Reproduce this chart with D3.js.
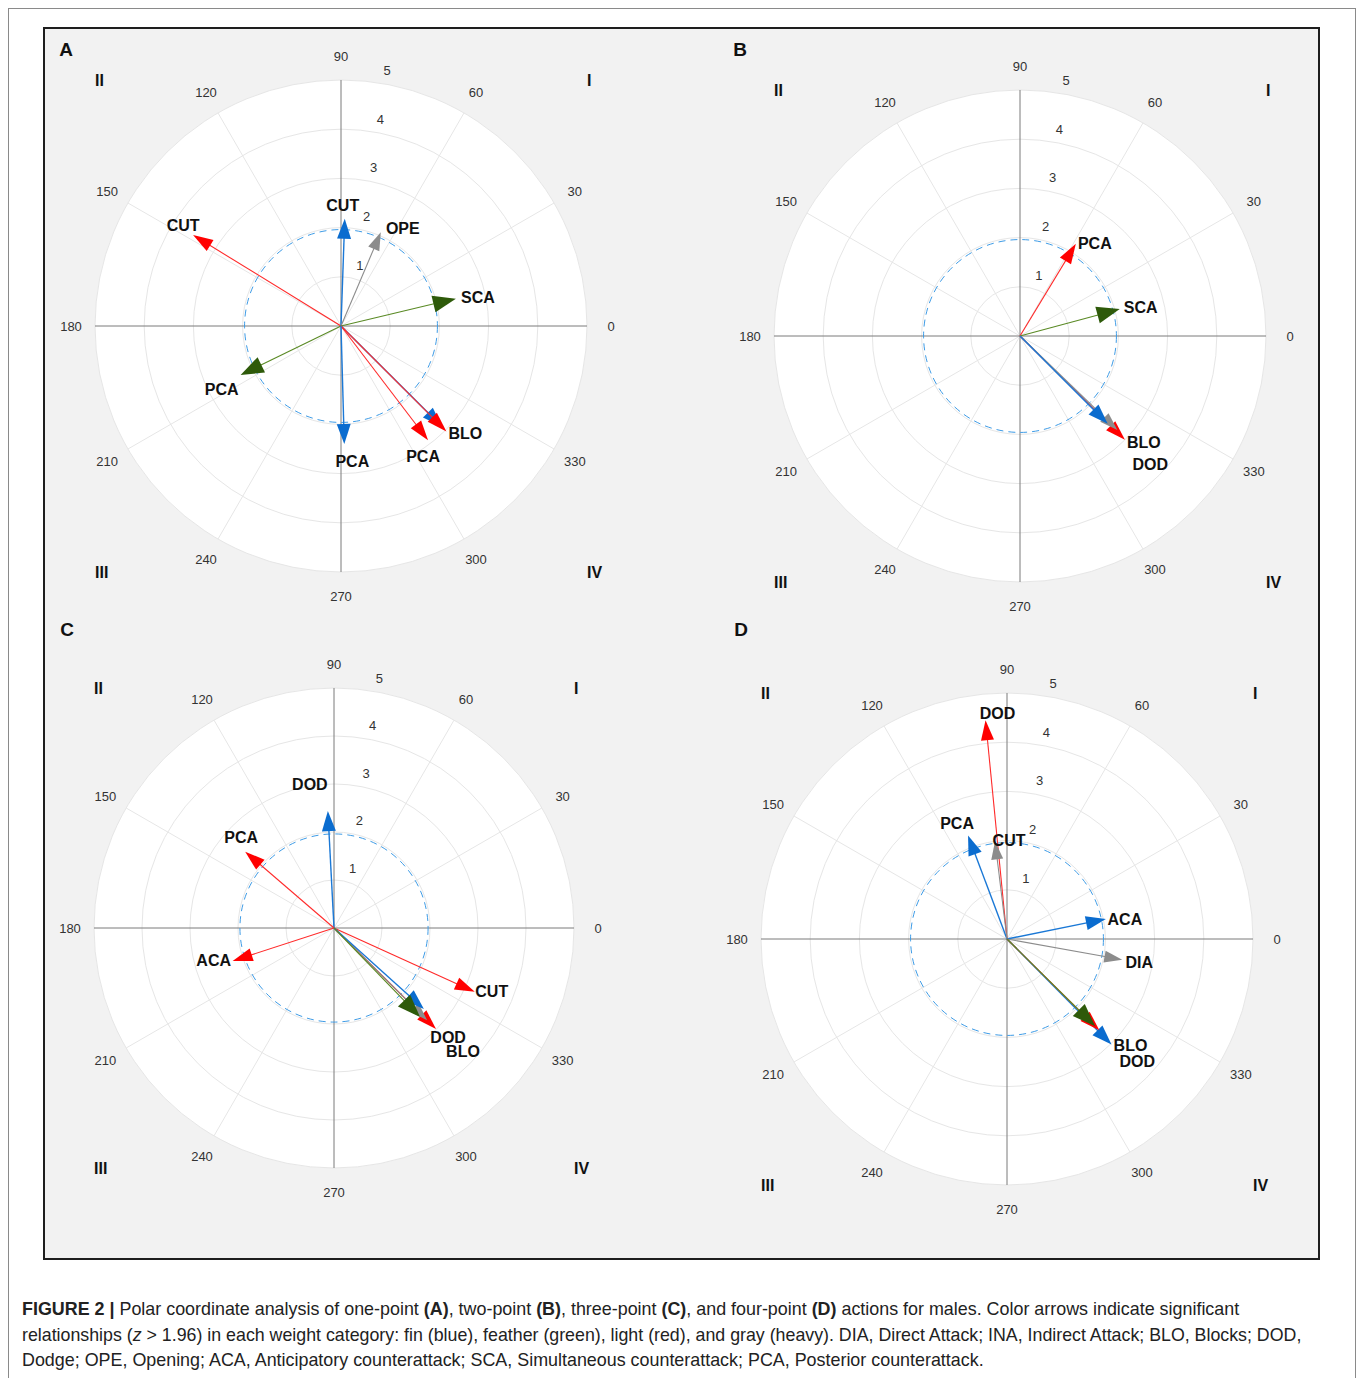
<!DOCTYPE html>
<html>
<head>
<meta charset="utf-8">
<script src="https://d3js.org/d3.v7.min.js"></script>
<style>
  body { margin: 0; background: #fff; }
  svg text { font-family: "Liberation Sans", Arial, sans-serif; }
</style>
</head>
<body>
<svg width="1358" height="1378"></svg>
<script>
// vectors per panel: weight category, action, length (z units), angle (deg)
// drawn in array order
var catA = ["light", "fin", "gray", "feather", "fin", "light", "feather", "light", "fin"];
var actA = ["CUT", "CUT", "OPE", "SCA", "BLO", "BLO", "PCA", "PCA", "PCA"];
var lenA = [3.53, 2.18, 2.07, 2.40, 2.90, 3.03, 2.27, 2.92, 2.40];
var angA = [148.4, 88, 67, 13.4, 315.1, 315, 206, 307.3, 271.6];

var catB = ["light", "feather", "light", "gray", "fin"];
var actB = ["PCA", "SCA", "BLO", "DOD", "BLO"];
var lenB = [2.19, 2.10, 3.00, 2.75, 2.52];
var angB = [58.8, 15.1, 315.3, 316, 315];

var catC = ["fin", "light", "light", "light", "light", "gray", "fin", "feather"];
var actC = ["DOD", "PCA", "ACA", "CUT", "BLO", "DOD", "DOD", "BLO"];
var lenC = [2.44, 2.44, 2.22, 3.22, 2.99, 2.73, 2.52, 2.58];
var angC = [93, 139.3, 198, 335.6, 315.3, 315.3, 318, 314];

var catD = ["light", "fin", "gray", "fin", "gray", "fin", "light", "feather"];
var actD = ["DOD", "PCA", "CUT", "ACA", "DIA", "BLO", "DOD", "BLO"];
var lenD = [4.47, 2.25, 2.00, 2.05, 2.38, 3.02, 2.64, 2.52];
var angD = [95.6, 110.6, 97, 11.4, 349.8, 314.7, 315.3, 315.3];

var ringTicks = [1, 2, 3, 4, 5];
var angleTicks = [0, 30, 60, 90, 120, 150, 180, 210, 240, 270, 300, 330];
var quadrants = ["I", "II", "III", "IV"];
var zCrit = 1.96;

// layout (pixels), kept apart from the data
var panels = [
  { id: "A", cx: 341, cy: 326, R: 246, lx: 66, ly: 49, cat: catA, act: actA, len: lenA, ang: angA,
    nudge: [[-10, -10], [-2, -13], [22, -4], [22, -1], null, [19, 2], [-19, 15], [-5, 16], [8, 17]] },
  { id: "B", cx: 1020, cy: 336, R: 246, lx: 740, ly: 49, cat: catB, act: actB, len: lenB, ang: angB,
    nudge: [[19, 0], [21, -2], [19, 3], [33, 35], null] },
  { id: "C", cx: 334, cy: 928, R: 240, lx: 67, ly: 629, cat: catC, act: actC, len: lenC, ang: angC,
    nudge: [[-18, -27], [-4, -14], [-19, 0], [17, 0], [27, 23], [21, 17], null, null] },
  { id: "D", cx: 1007, cy: 939, R: 246, lx: 741, ly: 629, cat: catD, act: actD, len: lenD, ang: angD,
    nudge: [[12, -7], [-11, -12], [14, -1], [19, 0], [17, 3], [19, 1], [38, 31], null] }
];

var style = {
  fin:     { line: "#1a78d6", head: "#0a6ccf", w: 1.4, hl: 20, hw: 7 },
  feather: { line: "#5a8a25", head: "#2e5a0a", w: 1.1, hl: 23, hw: 8.5 },
  light:   { line: "#ff2a2a", head: "#ff0000", w: 1.1, hl: 20, hw: 6.5 },
  gray:    { line: "#8c8c8c", head: "#8c8c8c", w: 1.1, hl: 18, hw: 6 }
};

var svg = d3.select("svg");

// outer figure frame and panel frame
svg.append("rect").attr("x", 8.5).attr("y", 8.5).attr("width", 1347).attr("height", 1400)
  .attr("fill", "#fff").attr("stroke", "#8a8a8a").attr("stroke-width", 1);
svg.append("rect").attr("x", 44).attr("y", 28).attr("width", 1275).attr("height", 1231)
  .attr("fill", "#f2f2f2").attr("stroke", "#1e1e1e").attr("stroke-width", 2);

var rad = function(d) { return d * Math.PI / 180; };

panels.forEach(function(p) {
  var r = d3.scaleLinear().domain([0, 5]).range([0, p.R]);
  var g = svg.append("g").attr("transform", "translate(" + p.cx + "," + p.cy + ")");
  var px = function(len, a) { return r(len) * Math.cos(rad(a)); };
  var py = function(len, a) { return -r(len) * Math.sin(rad(a)); };

  g.append("circle").attr("r", r(5)).attr("fill", "#fff");

  g.selectAll(".ring").data(ringTicks).enter().append("circle")
    .attr("r", function(d) { return r(d); })
    .attr("fill", "none").attr("stroke", "#e6e6e6").attr("stroke-width", 1);

  g.selectAll(".spoke").data(angleTicks.filter(function(d) { return d % 90 != 0; }))
    .enter().append("line")
    .attr("x1", 0).attr("y1", 0)
    .attr("x2", function(d) { return px(5, d); })
    .attr("y2", function(d) { return py(5, d); })
    .attr("stroke", "#e6e6e6").attr("stroke-width", 1);

  g.append("line").attr("x1", -r(5)).attr("x2", r(5)).attr("y1", 0).attr("y2", 0)
    .attr("stroke", "#7a7a7a").attr("stroke-width", 1);
  g.append("line").attr("y1", -r(5)).attr("y2", r(5)).attr("x1", 0).attr("x2", 0)
    .attr("stroke", "#7a7a7a").attr("stroke-width", 1);

  g.append("circle").attr("r", r(zCrit))
    .attr("fill", "none").attr("stroke", "#3d9be6").attr("stroke-width", 1)
    .attr("stroke-dasharray", "7,5");

  // angle labels
  g.selectAll(".alab").data(angleTicks).enter().append("text")
    .attr("x", function(d) { return (p.R + 24) * Math.cos(rad(d)); })
    .attr("y", function(d) { return -(p.R + 24) * Math.sin(rad(d)); })
    .attr("text-anchor", "middle").attr("dominant-baseline", "central")
    .style("font-size", "13px").attr("fill", "#333")
    .text(function(d) { return d; });

  // ring labels
  g.selectAll(".rlab").data(ringTicks).enter().append("text")
    .attr("x", function(d) { return px(d, 82) + 12; })
    .attr("y", function(d) { return py(d, 82) - 12; })
    .attr("text-anchor", "middle").attr("dominant-baseline", "central")
    .style("font-size", "13px").attr("fill", "#333")
    .text(function(d) { return d; });

  // quadrant numerals
  var qpos = [[1, -1], [-1, -1], [-1, 1], [1, 1]];
  g.selectAll(".quad").data(quadrants).enter().append("text")
    .attr("x", function(d, i) { return qpos[i][0] * p.R; })
    .attr("y", function(d, i) { return qpos[i][1] * p.R; })
    .attr("text-anchor", "start").attr("dominant-baseline", "central")
    .style("font-size", "16px").style("font-weight", "bold").attr("fill", "#111")
    .text(function(d) { return d; });

  svg.append("text").attr("x", p.lx).attr("y", p.ly)
    .attr("text-anchor", "middle").attr("dominant-baseline", "central")
    .style("font-size", "19px").style("font-weight", "bold").attr("fill", "#111")
    .text(p.id);

  // vectors
  var idx = d3.range(p.len.length);
  var vg = g.selectAll(".vec").data(idx).enter().append("g");
  vg.append("line")
    .attr("x1", 0).attr("y1", 0)
    .attr("x2", function(i) { return px(p.len[i], p.ang[i]) - style[p.cat[i]].hl * 0.6 * Math.cos(rad(p.ang[i])); })
    .attr("y2", function(i) { return py(p.len[i], p.ang[i]) + style[p.cat[i]].hl * 0.6 * Math.sin(rad(p.ang[i])); })
    .attr("stroke", function(i) { return style[p.cat[i]].line; })
    .attr("stroke-width", function(i) { return style[p.cat[i]].w; });
  vg.append("path")
    .attr("d", function(i) {
      var s = style[p.cat[i]], a = rad(p.ang[i]);
      var tx = px(p.len[i], p.ang[i]), ty = py(p.len[i], p.ang[i]);
      var ux = Math.cos(a), uy = -Math.sin(a);
      var bx = tx - ux * s.hl, by = ty - uy * s.hl;
      return "M" + tx + "," + ty +
        "L" + (bx - uy * s.hw) + "," + (by + ux * s.hw) +
        "L" + (bx + uy * s.hw) + "," + (by - ux * s.hw) + "Z";
    })
    .attr("fill", function(i) { return style[p.cat[i]].head; });

  // action labels
  var lab = idx.filter(function(i) { return p.nudge[i]; });
  g.selectAll(".vlab").data(lab).enter().append("text")
    .attr("x", function(i) { return px(p.len[i], p.ang[i]) + p.nudge[i][0]; })
    .attr("y", function(i) { return py(p.len[i], p.ang[i]) + p.nudge[i][1]; })
    .attr("text-anchor", "middle").attr("dominant-baseline", "central")
    .style("font-size", "16px").style("font-weight", "bold").attr("fill", "#111")
    .text(function(i) { return p.act[i]; });
});

// caption
var cap = svg.append("text").attr("x", 22).attr("y", 1315)
  .style("font-size", "17.9px").attr("fill", "#222");
var line1 = [["FIGURE 2 | ", true], ["Polar coordinate analysis of one-point ", false], ["(A)", true],
  [", two-point ", false], ["(B)", true], [", three-point ", false], ["(C)", true],
  [", and four-point ", false], ["(D)", true],
  [" actions for males. Color arrows indicate significant", false]];
line1.forEach(function(t) {
  cap.append("tspan").style("font-weight", t[1] ? "bold" : "normal").text(t[0]);
});
var cap2 = svg.append("text").attr("x", 22).attr("y", 1341)
  .style("font-size", "17.8px").attr("fill", "#222");
cap2.append("tspan").text("relationships (");
cap2.append("tspan").style("font-style", "italic").text("z");
cap2.append("tspan").text(" > 1.96) in each weight category: fin (blue), feather (green), light (red), and gray (heavy). DIA, Direct Attack; INA, Indirect Attack; BLO, Blocks; DOD,");
svg.append("text").attr("x", 22).attr("y", 1366)
  .style("font-size", "17.9px").attr("fill", "#222")
  .text("Dodge; OPE, Opening; ACA, Anticipatory counterattack; SCA, Simultaneous counterattack; PCA, Posterior counterattack.");
</script>
</body>
</html>
